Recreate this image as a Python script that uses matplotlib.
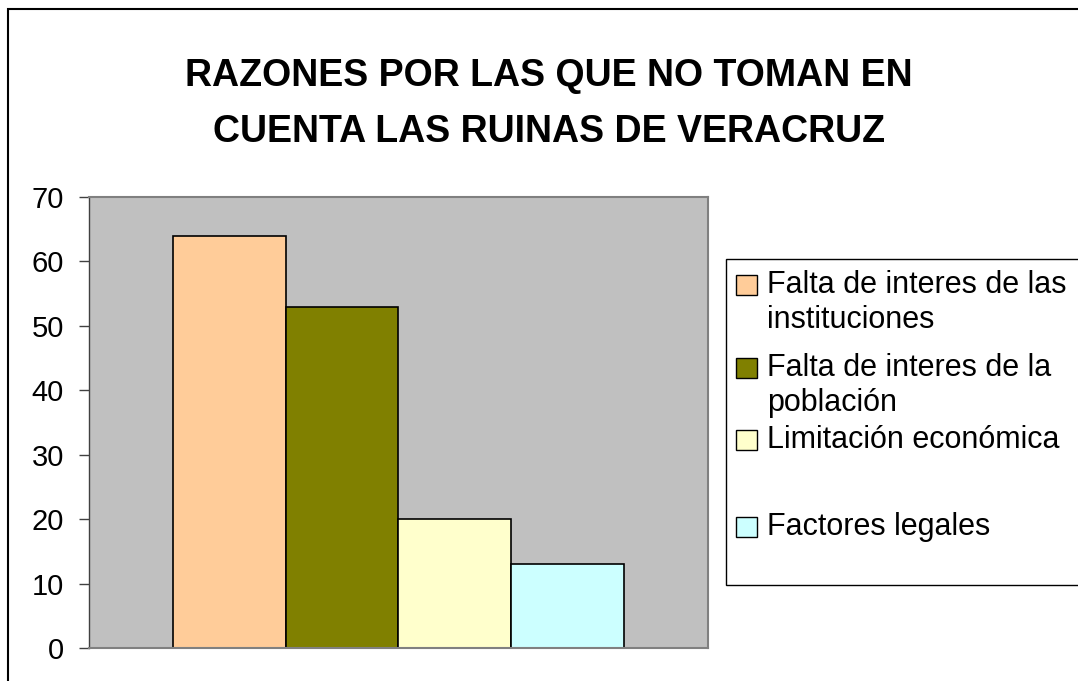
import matplotlib
matplotlib.use("Agg")
from matplotlib import pyplot as plt
from matplotlib.patches import Rectangle
import numpy as np

plt.rcParams['font.family'] = ['Liberation Sans', 'DejaVu Sans']

title = "RAZONES POR LAS QUE NO TOMAN EN\nCUENTA LAS RUINAS DE VERACRUZ"
labels = ["Falta de interes de las\ninstituciones",
          "Falta de interes de la\npoblación",
          "Limitación económica",
          "Factores legales"]
values = [64, 53, 20, 13]
colors = ["#FFCC99", "#808000", "#FFFFCC", "#CCFFFF"]
yticks = [0, 10, 20, 30, 40, 50, 60, 70]

W, H = 1078, 681
fig = plt.figure(figsize=(W / 100, H / 100), dpi=100)

def fx(px):
    return px / W

def fy(py):
    return 1 - py / H

# outer chart border (clipped at right and bottom like the original)
fig.add_artist(Rectangle((fx(8), -0.2), 2, fy(9) + 0.2, transform=fig.transFigure,
                         fill=False, edgecolor="black", linewidth=1.5))

ax = fig.add_axes([fx(89), fy(648), fx(708) - fx(89), fy(197) - fy(648)])
ax.set_facecolor("#C0C0C0")

w = 0.1822
for i, (v, c) in enumerate(zip(values, colors)):
    ax.bar((i - 1.5) * w, v, width=w, color=c, edgecolor="black", linewidth=1.2)

ax.set_xlim(-0.5, 0.5)
ax.set_ylim(0, 70)
ax.set_yticks(yticks)
ax.set_xticks([])
ax.tick_params(axis="y", direction="out", length=7, width=1, labelsize=21, pad=11,
               color="#404040")
for s in ["top", "right", "bottom"]:
    ax.spines[s].set_color("#808080")
    ax.spines[s].set_linewidth(1.5)
ax.spines["left"].set_color("#404040")
ax.spines["left"].set_linewidth(1)

fig.text(fx(549), fy(104), title, ha="center", va="center", fontsize=27,
         fontweight="bold", linespacing=1.7)

# legend, drawn like the Excel one
fig.add_artist(Rectangle((fx(726), fy(585)), 1, fy(259) - fy(585), transform=fig.transFigure,
                         facecolor="white", edgecolor="black", linewidth=1))
rows = [285, 368, 440, 527]
for lab, c, ry in zip(labels, colors, rows):
    fig.add_artist(Rectangle((fx(736), fy(ry + 10)), fx(757) - fx(736), fy(ry - 10) - fy(ry + 10),
                             transform=fig.transFigure, facecolor=c,
                             edgecolor="black", linewidth=1))
    for j, line in enumerate(lab.split("\n")):
        fig.text(fx(767), fy(ry + j * 35), line, ha="left", va="center", fontsize=22)

fig.savefig("out.png", dpi=100)
